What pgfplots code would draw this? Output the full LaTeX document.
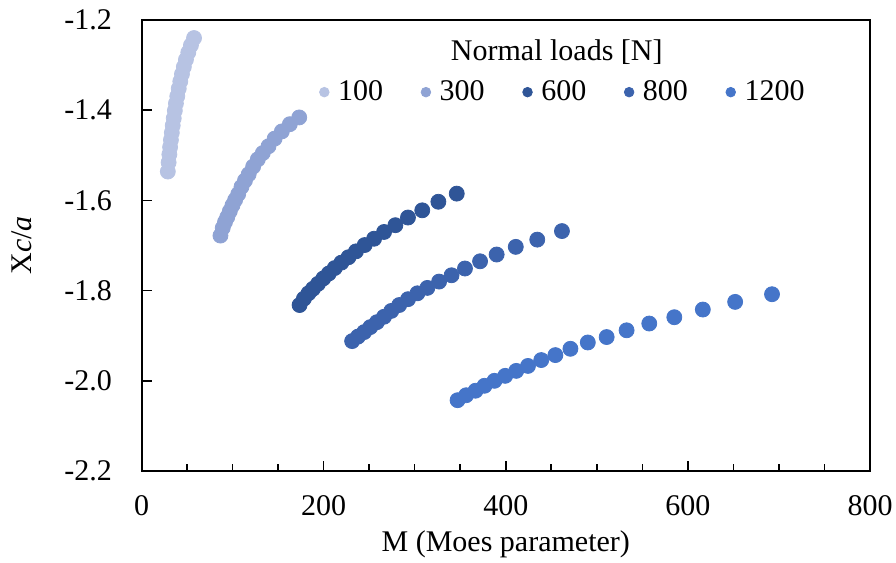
\documentclass[border=0pt]{standalone}
\usepackage{fontspec}
\setmainfont{Liberation Serif}
\usepackage{pgfplots}
\pgfplotsset{compat=1.18}
\definecolor{cA}{HTML}{B7C3E3}
\definecolor{cB}{HTML}{8FA3D4}
\definecolor{cC}{HTML}{2F5597}
\definecolor{cD}{HTML}{3C63AD}
\definecolor{cE}{HTML}{4575C9}
\begin{document}
\begin{tikzpicture}
\begin{axis}[
  width=364.25pt, height=225.5pt, scale only axis,
  clip=false,
  xmin=0, xmax=800, ymin=-2.2, ymax=-1.2,
  xtick={0,200,...,800}, minor x tick num=3,
  ytick={-2.2,-2.0,-1.8,-1.6,-1.4,-1.2},
  xtick pos=bottom, ytick pos=left, tick align=inside,
  major tick length=5pt, minor tick length=3.5pt,
  axis line style={line width=1pt, black}, every tick/.style={black, line width=0.8pt},
  font=\fontsize{15}{18}\selectfont,
  /pgf/number format/assume math mode=true,
  yticklabel style={/pgf/number format/fixed, /pgf/number format/fixed zerofill, /pgf/number format/precision=1, xshift=-11.25pt},
  xticklabel style={yshift=-8.5pt},
  xlabel={M (Moes parameter)},
  ylabel={X\textit{c}/\textit{a}},
  ylabel style={yshift=9.5pt},
  xlabel style={yshift=-1pt},
  legend columns=5,
  legend style={draw=none, fill=none, font=\fontsize{15}{18}\selectfont,
    at={(rel axis cs:0.580,0.840)}, anchor=center,
    /tikz/every odd column/.append style={column sep=2.5pt},
    /tikz/every even column/.append style={column sep=17pt}},
  legend image code/.code={\draw[#1, mark size=2.4pt] plot coordinates {(0,0)};},
]
\addplot[forget plot, black, line width=1pt, mark=none, sharp plot] coordinates {(0,-1.2) (800,-1.2) (800,-2.2)};
\addplot[only marks, mark=*, mark size=3.75pt, color=cA, mark options={draw=cA, fill=cA}] coordinates {
(28.9,-1.536)(29.8,-1.516)(30.6,-1.498)(31.4,-1.482)(32.3,-1.466)(33.3,-1.450)(34.3,-1.434)(35.4,-1.418)(36.6,-1.401)(37.8,-1.385)(39.3,-1.369)(40.9,-1.352)(42.6,-1.336)(44.4,-1.320)(46.5,-1.304)(48.8,-1.288)(51.4,-1.272)(54.3,-1.256)(57.7,-1.240)};
\addlegendentry{100}
\addplot[only marks, mark=*, mark size=3.75pt, color=cB, mark options={draw=cB, fill=cB}] coordinates {
(86.7,-1.678)(89.2,-1.661)(91.7,-1.648)(94.2,-1.637)(97.0,-1.624)(99.9,-1.611)(102.8,-1.599)(106.2,-1.586)(109.8,-1.570)(113.6,-1.556)(117.7,-1.542)(122.6,-1.525)(127.7,-1.509)(133.2,-1.495)(139.5,-1.480)(146.2,-1.463)(154.1,-1.447)(162.9,-1.431)(173.2,-1.416)};
\addlegendentry{300}
\addplot[only marks, mark=*, mark size=3.75pt, color=cC, mark options={draw=cC, fill=cC}] coordinates {
(173.6,-1.832)(178.3,-1.818)(183.4,-1.806)(188.3,-1.796)(193.8,-1.785)(199.7,-1.773)(205.7,-1.762)(212.2,-1.750)(219.5,-1.738)(227.3,-1.726)(235.5,-1.713)(245.1,-1.699)(255.4,-1.685)(266.4,-1.670)(278.8,-1.655)(292.6,-1.638)(308.3,-1.622)(326.0,-1.603)(346.2,-1.585)};
\addlegendentry{600}
\addplot[only marks, mark=*, mark size=3.75pt, color=cD, mark options={draw=cD, fill=cD}] coordinates {
(231.3,-1.912)(237.7,-1.902)(244.5,-1.892)(251.2,-1.881)(258.5,-1.870)(266.3,-1.858)(274.3,-1.845)(283.0,-1.832)(292.7,-1.819)(303.0,-1.806)(313.9,-1.794)(326.8,-1.780)(340.5,-1.766)(355.2,-1.751)(371.8,-1.735)(390.0,-1.720)(411.0,-1.703)(434.6,-1.687)(461.7,-1.668)};
\addlegendentry{800}
\addplot[only marks, mark=*, mark size=3.75pt, color=cE, mark options={draw=cE, fill=cE}] coordinates {
(347.1,-2.043)(356.5,-2.032)(366.8,-2.022)(376.7,-2.011)(387.6,-2.000)(399.4,-1.989)(411.5,-1.978)(424.4,-1.967)(439.0,-1.954)(454.5,-1.943)(471.0,-1.929)(490.1,-1.915)(510.8,-1.903)(532.7,-1.888)(557.6,-1.873)(585.1,-1.859)(616.4,-1.842)(651.9,-1.825)(692.4,-1.808)};
\addlegendentry{1200}
\node[font=\fontsize{15}{18}\selectfont] at (rel axis cs:0.570,0.928) {Normal loads [N]};
\end{axis}
\pgfresetboundingbox
\path ([shift={(-70.75pt,-45.5pt)}]current axis.south west) rectangle ([shift={(13pt,10pt)}]current axis.north east);
\end{tikzpicture}
\end{document}
